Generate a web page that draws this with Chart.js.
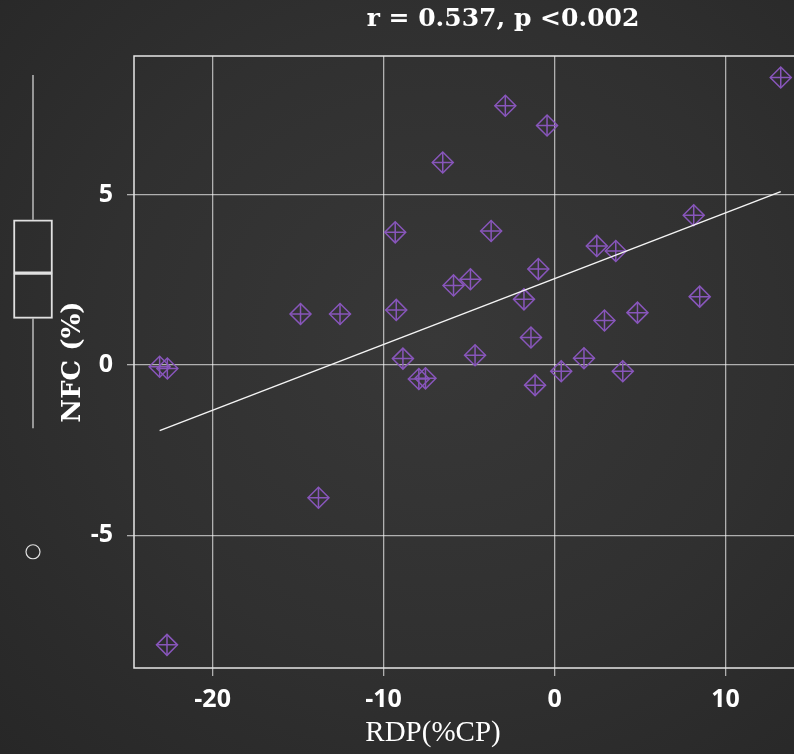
<!DOCTYPE html>
<html lang="en">
<head>
<meta charset="UTF-8" />
<title>NFC vs RDP</title>
<script src="https://cdn.jsdelivr.net/npm/chart.js"></script>
<style>
    html, body { margin: 0; padding: 0; }
    body {
        width: 794px; height: 754px; overflow: hidden; position: relative;
        background: radial-gradient(ellipse at 55% 45%, #383838 0%, #303030 55%, #272727 100%);
        color: #fff;
    }
    #main, #box { position: absolute; left: 0; top: 0; }
    .lbl { position: absolute; white-space: nowrap; transform: translateX(-50%); }
    #title { left: 503px; top: 2px; font: bold 25px "DejaVu Serif", serif; line-height: 32px; }
    #xtitle { left: 433px; top: 714px; font: 29px "Liberation Serif", serif; line-height: 34px; }
</style>
</head>
<body>
<canvas id="main" width="830" height="754"></canvas>
<canvas id="box" width="66" height="754"></canvas>
<div class="lbl" id="title">r = 0.537, p &lt;0.002</div>
<div class="lbl" id="xtitle">RDP(%CP)</div>

<script>
    // RDP (% CP) on x, NFC (%) on y, one entry per animal
    const rdp = [-23.1, -22.65, -22.67, -14.86, -13.81, -12.55, -9.32, -9.26, -8.87, -7.94, -7.55,
                 -6.54, -5.91, -4.92, -4.65, -3.71, -2.88, -1.79, -1.38, -1.14, -0.95, -0.44,
                 0.39, 1.72, 2.47, 2.92, 3.58, 3.99, 4.85, 8.14, 8.49, 13.23];
    const nfc = [-0.05, -0.1, -8.22, 1.50, -3.90, 1.50, 3.90, 1.62, 0.19, -0.41, -0.39,
                 5.95, 2.34, 2.52, 0.29, 3.94, 7.62, 1.93, 0.81, -0.59, 2.82, 7.04,
                 -0.18, 0.20, 3.50, 1.31, 3.35, -0.18, 1.54, 4.40, 2.01, 8.45];
    const xTicks = [-20, -10, 0, 10];
    const yTicks = [-5, 0, 5];

    const purple = "#8856bb";
    const gridCol = "rgba(255,255,255,0.62)";
    const tickFont = { family: "'Open Sans', sans-serif", size: 25, weight: "bold" };

    const points = rdp.map((x, i) => ({ x: x, y: nfc[i] }));

    // least squares fit
    const n = rdp.length;
    const mx = rdp.reduce((a, b) => a + b, 0) / n;
    const my = nfc.reduce((a, b) => a + b, 0) / n;
    let sxy = 0, sxx = 0;
    for (let i = 0; i < n; i++) {
        sxy += (rdp[i] - mx) * (nfc[i] - my);
        sxx += (rdp[i] - mx) * (rdp[i] - mx);
    }
    const slope = sxy / sxx, icpt = my - slope * mx;
    const xLo = Math.min(...rdp), xHi = Math.max(...rdp);
    const fit = [{ x: xLo, y: icpt + slope * xLo }, { x: xHi, y: icpt + slope * xHi }];

    // white frame round the panel
    const frame = {
        id: "frame",
        afterDatasetsDraw(chart) {
            const a = chart.chartArea, ctx = chart.ctx;
            ctx.save();
            ctx.strokeStyle = "#e6e6e6";
            ctx.lineWidth = 1.5;
            ctx.strokeRect(a.left, a.top, a.right - a.left, a.bottom - a.top);
            ctx.restore();
        }
    };

    new Chart(document.getElementById("main"), {
        type: "scatter",
        data: {
            datasets: [
                { type: "line", data: fit, borderColor: "#f4f4f4", borderWidth: 1.5, pointRadius: 0, fill: false },
                { data: points, pointStyle: "rectRot", pointRadius: 10.5, borderColor: purple,
                  backgroundColor: "transparent", borderWidth: 1.5 },
                { data: points, pointStyle: "cross", pointRadius: 10.5, borderColor: purple, borderWidth: 1.5 }
            ]
        },
        options: {
            responsive: false,
            animation: false,
            events: [],
            layout: { autoPadding: false, padding: { left: 58, top: 56, right: 19, bottom: 0 } },
            plugins: { legend: { display: false }, tooltip: { enabled: false } },
            scales: {
                x: {
                    type: "linear", min: -24.6, max: 15,
                    afterBuildTicks: s => { s.ticks = xTicks.map(v => ({ value: v })); },
                    afterFit: s => { s.height = 86; },
                    ticks: { color: "#fff", font: tickFont, padding: 9, maxRotation: 0 },
                    grid: { color: gridCol, lineWidth: 1.3, tickLength: 8, tickColor: gridCol },
                    border: { display: false }
                },
                y: {
                    min: -8.9, max: 9.08,
                    afterBuildTicks: s => { s.ticks = yTicks.map(v => ({ value: v })); },
                    afterFit: s => { s.width = 76; },
                    ticks: { color: "#fff", font: tickFont, padding: 14 },
                    grid: { color: gridCol, lineWidth: 1.3, tickLength: 7, tickColor: gridCol },
                    border: { display: false },
                    title: { display: true, text: "NFC (%)", color: "#fff", padding: 0,
                             font: { family: "'DejaVu Serif', serif", size: 26, weight: "bold" } }
                }
            }
        },
        plugins: [frame]
    });

    // marginal boxplot of NFC
    const sorted = [...nfc].sort((a, b) => a - b);
    const quant = p => {
        const h = (sorted.length - 1) * p, lo = Math.floor(h);
        return sorted[lo] + (h - lo) * ((sorted[lo + 1] ?? sorted[lo]) - sorted[lo]);
    };
    const q1 = quant(0.25), med = quant(0.5), q3 = quant(0.75);
    const iqr = q3 - q1;
    const inside = sorted.filter(v => v >= q1 - 1.5 * iqr && v <= q3 + 1.5 * iqr);
    const loW = Math.min(...inside), hiW = Math.max(...inside);
    const outliers = sorted.filter(v => v < loW || v > hiW);

    const boxLine = { borderColor: "#e0e0e0", borderWidth: 1.2, pointRadius: 0, fill: false };
    const boxBar = { grouped: false, barThickness: 39, borderColor: "#e0e0e0", borderWidth: 1.3,
                     backgroundColor: "transparent", borderSkipped: false };

    new Chart(document.getElementById("box"), {
        type: "bar",
        data: {
            datasets: [
                Object.assign({ data: [{ x: 1, y: [q1, med] }] }, boxBar),
                Object.assign({ data: [{ x: 1, y: [med, q3] }] }, boxBar),
                Object.assign({ type: "line", data: [{ x: 1, y: q3 }, { x: 1, y: hiW }] }, boxLine),
                Object.assign({ type: "line", data: [{ x: 1, y: loW }, { x: 1, y: q1 }] }, boxLine),
                { type: "scatter", data: outliers.map(v => ({ x: 1, y: v })), pointStyle: "circle",
                  pointRadius: 7, borderColor: "#e0e0e0", backgroundColor: "transparent", borderWidth: 1.2 }
            ]
        },
        options: {
            responsive: false,
            animation: false,
            events: [],
            layout: { autoPadding: false, padding: 0 },
            plugins: { legend: { display: false }, tooltip: { enabled: false } },
            scales: {
                x: { type: "linear", min: 0, max: 2, offset: false, display: false },
                y: { min: -15.29, max: 11.07, display: false }
            }
        }
    });
</script>
</body>
</html>
